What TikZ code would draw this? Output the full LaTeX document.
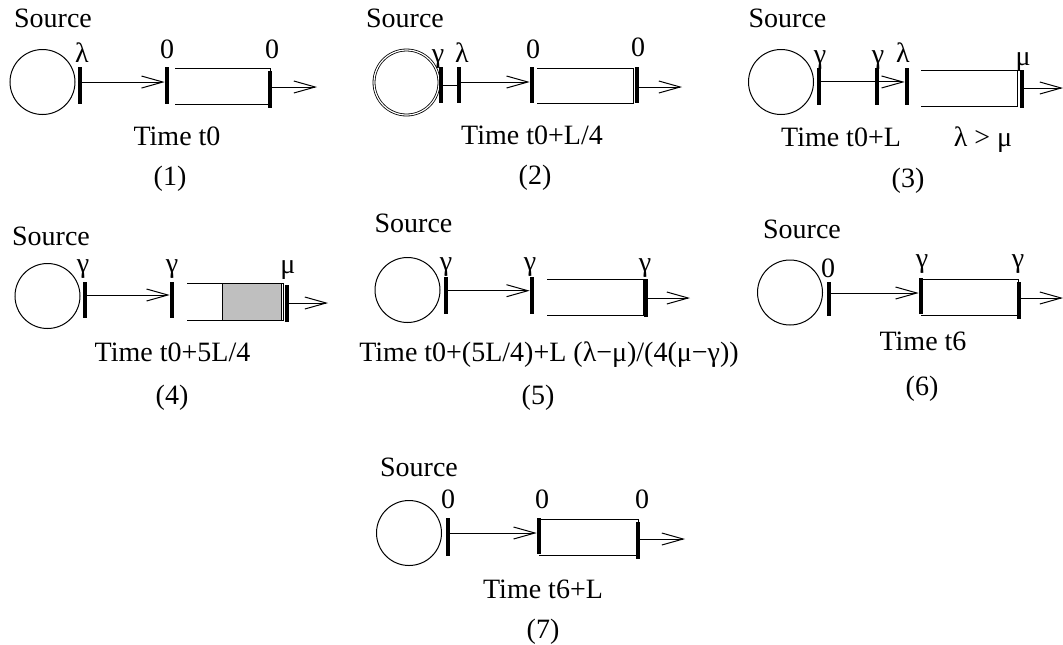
\documentclass[tikz,border=0pt]{standalone}
\usepackage{fontspec}
\setmainfont{Liberation Serif}
\usetikzlibrary{arrows.meta}
\begin{document}
\begin{tikzpicture}[x=0.75pt,y=-0.75pt,
  src/.style={circle,draw,line width=0.75pt,minimum size=48.75pt,inner sep=0pt},
  bar/.style={fill=black,inner sep=0pt,minimum width=3pt,minimum height=27.75pt},
  txt/.style={inner sep=0pt,anchor=base,font=\fontsize{21}{24}\selectfont},
  arr/.style={line width=0.75pt,-{Straight Barb[length=16pt,width=9pt]}},
  pipe/.style={line width=0.75pt},
  fillbox/.style={line width=0.75pt,fill=black!25}
]
\useasboundingbox (0,0) rectangle (1063,644);

% ---------- Panel 1 ----------
\node[src] (c1) at (42.5,82) {};
\node[bar] (b1a) at (80,85.5) {};
\node[bar] (b1b) at (167,85.5) {};
\draw[pipe] (175,68) -- (270,68) -- (270,104) -- (175,104);
\node[bar] (b1c) at (270,89) {};
\path ([yshift=2.6pt]b1a.east) coordinate (a1);
\draw[arr] (a1) -- (a1 -| b1b.west);
\coordinate (o1) at (317,87);
\draw[arr] (b1c.east |- o1) -- (o1);
\node[txt] (s1) at (53,27) {Source};
\node[txt] (l1a) at (82,62) {λ};
\node[txt] (l1b) at (167,58) {0};
\node[txt] (l1c) at (272,58) {0};
\node[txt] (t1) at (177,145) {Time t0};
\node[txt] (n1) at (170,185) {(1)};

% ---------- Panel 2 ----------
\node[src,double,double distance=0.9pt,line width=0.6pt] (c2) at (406.5,82.5) {};
\node[bar,minimum height=27pt] (b2a) at (441,85) {};
\node[bar,minimum height=27pt] (b2b) at (459,85) {};
\node[bar,minimum height=27pt] (b2c) at (532,85) {};
\draw[pipe] (537,68) -- (633,68) -- (633,103) -- (537,103);
\node[bar,minimum height=27pt] (b2d) at (637,85) {};
\draw[pipe] (b2a) -- (b2b);
\path ([yshift=2.25pt]b2b.east) coordinate (a2);
\draw[arr] (a2) -- (a2 -| b2c.west);
\coordinate (o2) at (682,87);
\draw[arr] (b2d.east |- o2) -- (o2);
\node[txt] (s2) at (405,27) {Source};
\node[txt] (l2a) at (438,62) {γ};
\node[txt] (l2b) at (462,62) {λ};
\node[txt] (l2c) at (533,58) {0};
\node[txt] (l2d) at (638,56) {0};
\node[txt] (t2) at (532,144) {Time t0+L/4};
\node[txt] (n2) at (535,184) {(2)};

% ---------- Panel 3 ----------
\node[src] (c3) at (781,82) {};
\node[bar] (b3a) at (819,86.5) {};
\node[bar] (b3b) at (877,86.5) {};
\node[bar] (b3c) at (907,86.5) {};
\draw[pipe] (921,70) -- (1017,70) -- (1017,106) -- (921,106);
\node[bar,minimum height=28.5pt] (b3d) at (1022,89) {};
\path ([yshift=3.4pt]b3a.east) coordinate (a3);
\draw[arr] (a3) -- (a3 -| b3c.west);
\coordinate (o3) at (1063,88);
\draw[arr] (b3d.east |- o3) -- (o3);
\node[txt] (s3) at (787.5,27) {Source};
\node[txt] (l3a) at (820,63) {γ};
\node[txt] (l3b) at (878,63) {γ};
\node[txt] (l3c) at (903,62) {λ};
\node[txt] (l3d) at (1023,65) {μ};
\node[txt] (t3) at (841,146) {Time t0+L};
\node[txt] (t3b) at (983,146) {λ > μ};
\node[txt] (n3) at (908,187) {(3)};

% ---------- Panel 4 ----------
\node[src] (c4) at (47.5,296) {};
\node[bar,minimum height=27pt] (b4a) at (85,300) {};
\node[bar,minimum height=27pt] (b4b) at (172,300) {};
\draw[pipe] (187,283) -- (283,283) -- (283,320) -- (187,320);
\draw[fillbox] (222,283) rectangle (281,320);
\node[bar] (b4c) at (287,303.5) {};
\path ([yshift=3.75pt]b4a.east) coordinate (a4);
\draw[arr] (a4) -- (a4 -| b4b.west);
\coordinate (o4) at (328,303);
\draw[arr] (b4c.east |- o4) -- (o4);
\node[txt] (s4) at (51,245) {Source};
\node[txt] (l4a) at (83,272) {γ};
\node[txt] (l4b) at (172,272) {γ};
\node[txt] (l4c) at (288,273) {μ};
\node[txt] (t4) at (172.5,361) {Time t0+5L/4};
\node[txt] (n4) at (172,404) {(4)};

% ---------- Panel 5 ----------
\node[src] (c5) at (407.5,290) {};
\node[bar] (b5a) at (446,295.5) {};
\node[bar] (b5b) at (532,295.5) {};
\draw[pipe] (547,279) -- (643,279) -- (643,315) -- (547,315);
\node[bar,minimum height=28.5pt] (b5c) at (646,298) {};
\path ([yshift=3.6pt]b5a.east) coordinate (a5);
\draw[arr] (a5) -- (a5 -| b5b.west);
\coordinate (o5) at (690,298);
\draw[arr] (b5c.east |- o5) -- (o5);
\node[txt] (s5) at (413.5,232) {Source};
\node[txt] (l5a) at (446,270) {γ};
\node[txt] (l5b) at (530,270) {γ};
\node[txt] (l5c) at (645,271) {γ};
\node[txt] (t5) at (549,361) {Time t0+(5L/4)+L (λ−μ)/(4(μ−γ))};
\node[txt] (n5) at (538,404) {(5)};

% ---------- Panel 6 ----------
\node[src] (c6) at (790,292.5) {};
\node[bar,minimum height=25.5pt] (b6a) at (829,299) {};
\node[bar,minimum height=27pt] (b6b) at (921,296) {};
\draw[pipe] (921,279) -- (1018,279) -- (1018,315) -- (921,315);
\node[bar] (b6c) at (1019,300.5) {};
\path ([yshift=4.5pt]b6a.east) coordinate (a6);
\draw[arr] (a6) -- (a6 -| b6b.west);
\coordinate (o6) at (1063,298);
\draw[arr] (b6c.east |- o6) -- (o6);
\node[txt] (s6) at (802,238) {Source};
\node[txt] (l6a) at (828,277) {0};
\node[txt] (l6b) at (922,267) {γ};
\node[txt] (l6c) at (1018,267) {γ};
\node[txt] (t6) at (923,350) {Time t6};
\node[txt] (n6) at (922,395) {(6)};

% ---------- Panel 7 ----------
\node[src] (c7) at (409,533) {};
\node[bar,minimum height=28.5pt] (b7a) at (448,537) {};
\node[bar,minimum height=27pt] (b7b) at (539,536) {};
\draw[pipe] (539,519) -- (638,519) -- (638,555) -- (539,555);
\node[bar] (b7c) at (638,540.5) {};
\path ([yshift=3pt]b7a.east) coordinate (a7);
\draw[arr] (a7) -- (a7 -| b7b.west);
\coordinate (o7) at (685,539);
\draw[arr] (b7c.east |- o7) -- (o7);
\node[txt] (s7) at (419,476) {Source};
\node[txt] (l7a) at (448,508) {0};
\node[txt] (l7b) at (542,508) {0};
\node[txt] (l7c) at (642,508) {0};
\node[txt] (t7) at (543,598) {Time t6+L};
\node[txt] (n7) at (543,638) {(7)};
\end{tikzpicture}
\end{document}
